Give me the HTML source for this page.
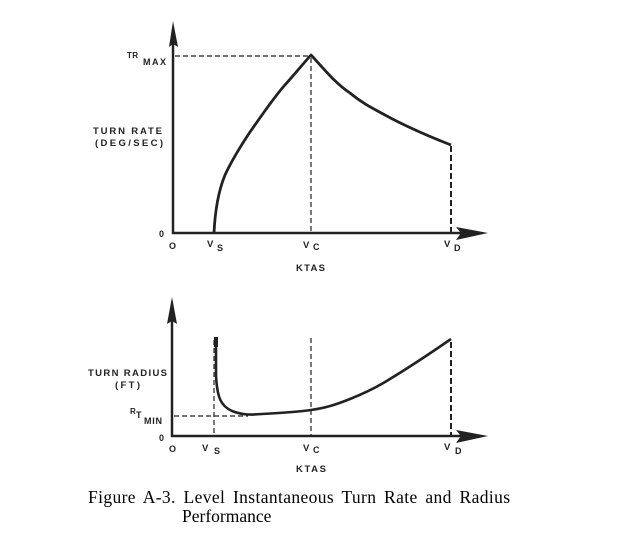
<!DOCTYPE html>
<html><head><meta charset="utf-8"><style>
html,body{margin:0;padding:0;background:#fff;}
svg{display:block;}
.l{font-family:"Liberation Sans",Arial,sans-serif;font-weight:bold;fill:#222;}
.c{font-family:"Liberation Serif","Times New Roman",serif;fill:#000;font-size:17.5px;}
</style></head><body>
<svg width="623" height="535" viewBox="0 0 623 535" xmlns="http://www.w3.org/2000/svg">
<rect width="623" height="535" fill="#fff"/>
<!-- TOP CHART -->
<g stroke="#222" fill="none">
  <line x1="173" y1="40" x2="173" y2="234" stroke-width="2.5"/>
  <line x1="172" y1="233" x2="462" y2="233" stroke-width="2.5"/>
  <line x1="175" y1="56" x2="309" y2="56" stroke-width="1.2" stroke-dasharray="5,3"/>
  <line x1="311" y1="58" x2="311" y2="232" stroke-width="1.2" stroke-dasharray="5,3"/>
  <line x1="451" y1="146" x2="451" y2="232" stroke-width="2" stroke-dasharray="6,3"/>
  <path d="M214,233 C215,212 218,192 225,175 C232,160 240,147 250,132 C262,115 272,100 284,86 C294,75 302,65 311,55 C325,70 335,83 350,93 C362,103 372,108 385,115 C405,126 428,136 451,145" stroke-width="2.8" stroke-linejoin="round"/>
</g>
<polygon points="173,21 169,47 173,44 178,47" fill="#222"/>
<polygon points="488,233 456,227 461,233 456,240" fill="#222"/>
<text class="l" x="127" y="58" font-size="8" textLength="11">TR</text>
<text class="l" x="143" y="65" font-size="9" textLength="23">MAX</text>
<text class="l" x="93" y="134" font-size="9.5" textLength="69">TURN RATE</text>
<text class="l" x="95" y="146" font-size="9.5" textLength="68">(DEG/SEC)</text>
<text class="l" x="159" y="237" font-size="9">0</text>
<text class="l" x="169" y="249" font-size="9">O</text>
<text class="l" x="207" y="247" font-size="9.5">V</text>
<text class="l" x="217" y="251" font-size="9">S</text>
<text class="l" x="303" y="248" font-size="9.5">V</text>
<text class="l" x="313" y="250" font-size="9">C</text>
<text class="l" x="444" y="247" font-size="9.5">V</text>
<text class="l" x="454" y="251" font-size="9">D</text>
<text class="l" x="296" y="271" font-size="9.5" textLength="29">KTAS</text>

<!-- BOTTOM CHART -->
<g stroke="#222" fill="none">
  <line x1="172" y1="315" x2="172" y2="437" stroke-width="2.5"/>
  <line x1="171" y1="436" x2="462" y2="436" stroke-width="2.5"/>
  <line x1="174" y1="416" x2="248" y2="416" stroke-width="1.2" stroke-dasharray="5,3"/>
  <line x1="214" y1="340" x2="214" y2="435" stroke-width="1.2" stroke-dasharray="5,3"/>
  <line x1="311" y1="338" x2="311" y2="435" stroke-width="1.2" stroke-dasharray="5,3"/>
  <line x1="451" y1="342" x2="451" y2="435" stroke-width="2" stroke-dasharray="6,3"/>
  <path d="M216,338 L216,375 C217,398 221,406 232,411 C242,415 250,415 262,414 C280,413 298,412 311,410 C325,408 335,405 350,399 C365,393 375,388 385,382 C405,370 425,357 451,339" stroke-width="2.6" stroke-linejoin="round"/>
</g>
<rect x="214" y="337" width="4" height="10" fill="#222"/>
<polygon points="172,297 167,324 172,321 177,324" fill="#222"/>
<polygon points="488,436 456,430 461,436 456,443" fill="#222"/>
<text class="l" x="88" y="376" font-size="9.5" textLength="79">TURN RADIUS</text>
<text class="l" x="115" y="388" font-size="9.5" textLength="25">(FT)</text>
<text class="l" x="130" y="414" font-size="8">R</text>
<text class="l" x="136" y="418" font-size="9">T</text>
<text class="l" x="144" y="424" font-size="9" textLength="18">MIN</text>
<text class="l" x="159" y="441" font-size="9">0</text>
<text class="l" x="169" y="452" font-size="9">O</text>
<text class="l" x="202" y="451" font-size="9.5">V</text>
<text class="l" x="214" y="454" font-size="9">S</text>
<text class="l" x="303" y="451" font-size="9.5">V</text>
<text class="l" x="313" y="453" font-size="9">C</text>
<text class="l" x="444" y="450" font-size="9.5">V</text>
<text class="l" x="455" y="454" font-size="9">D</text>
<text class="l" x="296" y="472" font-size="9.5" textLength="30">KTAS</text>

<!-- caption -->
<text class="c" x="88" y="503" textLength="422" lengthAdjust="spacing" word-spacing="3">Figure A-3. Level Instantaneous Turn Rate and Radius</text>
<text class="c" x="182" y="522">Performance</text>
</svg>
</body></html>
